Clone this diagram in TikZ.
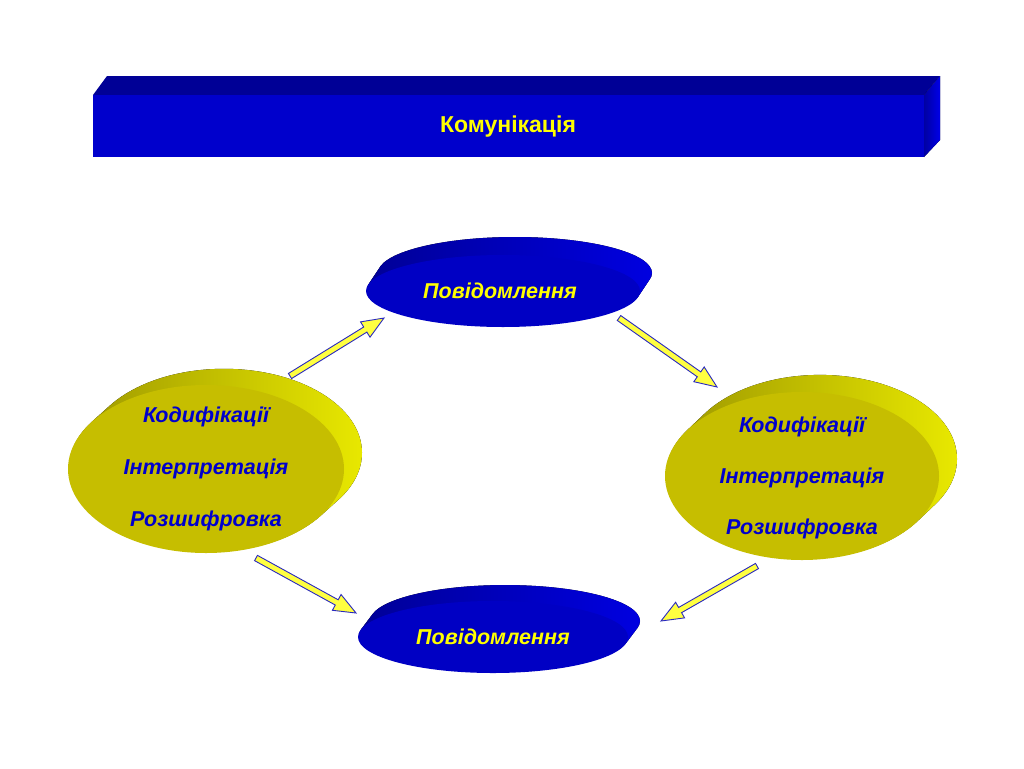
\documentclass[tikz,border=0pt]{standalone}
\usepackage{fontspec}
\setmainfont{Liberation Sans}
\usetikzlibrary{positioning,shapes.geometric,calc}

\definecolor{barfront}{HTML}{0000CC}
\definecolor{bartop}{HTML}{000096}
\definecolor{barside}{HTML}{0000E8}
\definecolor{msgfront}{HTML}{0000C4}
\definecolor{msgback}{HTML}{000096}
\definecolor{msgrim}{HTML}{0000E0}
\definecolor{codefront}{HTML}{C6BE00}
\definecolor{codeback}{HTML}{9C9600}
\definecolor{coderim}{HTML}{E8E800}
\definecolor{arrowfill}{HTML}{FFFF40}
\definecolor{arrowline}{HTML}{2828C0}
\definecolor{txtyellow}{HTML}{FFFF00}
\definecolor{txtblue}{HTML}{0000CC}

% block arrow from tail #1 to tip #2
\newcommand{\blockarrow}[2]{%
  \coordinate (#2h) at ($(#2)!22pt!(#1)$);
  \filldraw[arrowbody] ($(#1)!3pt!90:(#2)$) -- ($(#2h)!3pt!-90:(#1)$)
    -- ($(#2h)!9pt!-90:(#1)$) -- (#2) -- ($(#2h)!9pt!90:(#1)$)
    -- ($(#2h)!3pt!90:(#1)$) -- ($(#1)!3pt!-90:(#2)$) -- cycle;
}

\begin{document}
\begin{tikzpicture}[
    x=1pt, y=-1pt,
    every node/.style={font=\fontsize{23}{27}\selectfont\bfseries},
    msgdisc/.style={ellipse, inner sep=0pt, minimum width=274pt, minimum height=72pt},
    codedisc/.style={ellipse, inner sep=0pt, minimum width=276pt, minimum height=168pt},
    msgtext/.style={text=txtyellow, font=\fontsize{21.5}{26}\selectfont\bfseries\itshape},
    codetext/.style={text=txtblue, font=\fontsize{21.5}{26}\selectfont\bfseries\itshape},
    msgside/.style={left color=msgback, right color=msgrim},
    codeside/.style={left color=codeback, right color=coderim},
    arrowbody/.style={fill=arrowfill, draw=arrowline, line width=0.9pt, line join=miter}
]
\useasboundingbox (0,0) rectangle (1024,768);
\fill[white] (0,0) rectangle (1024,768);

% Title bar
\fill[bartop] (93,95) -- (107,76) -- (940,76) -- (924,95) -- cycle;
\fill[left color=barside!70!black, right color=barside] (924,95) -- (940,76) -- (940,140) -- (924,157) -- cycle;
\fill[barfront] (93,95) rectangle (924,157);
\node[text=txtyellow] (title) at (508,127) {Комунікація};

% Discs (front faces)
\coordinate (tmsgc) at (503,291);
\coordinate (bmsgc) at (493,637);
\coordinate (lcodec) at (206,469);
\coordinate (rcodec) at (802,476);

% Disc sides
\fill[msgside] foreach \s in {1,...,12} {($(tmsgc)+(\s,-\s*1.5)$) ellipse [x radius=137, y radius=36]};
\fill[msgside] foreach \s in {1,...,12} {($(bmsgc)+(\s,-\s*1.33)$) ellipse [x radius=135, y radius=36]};
\fill[codeside] foreach \s in {1,...,18} {($(lcodec)+(\s,-\s*0.9)$) ellipse [x radius=138, y radius=84]};
\fill[codeside] foreach \s in {1,...,18} {($(rcodec)+(\s,-\s*0.95)$) ellipse [x radius=137, y radius=84]};

% Messages
\node[msgdisc, fill=msgfront] (tmsg) at (tmsgc) {};
\node[msgtext] at ([xshift=-3pt]tmsg.center) {Повідомлення};

\node[msgdisc, minimum width=270pt, fill=msgfront] (bmsg) at (bmsgc) {};
\node[msgtext] at (bmsg.center) {Повідомлення};

% Left side
\node[codedisc, fill=codefront] (lfront) at (lcodec) {};
\node[codetext] (lint) at (lfront.center) {Інтерпретація};
\node[codetext] (lcod) at ([yshift=52pt]lint.center) {Кодифікації};
\node[codetext] (lroz) at ([yshift=-52pt]lint.center) {Розшифровка};

% Right side
\node[codedisc, minimum width=274pt, fill=codefront] (rfront) at (rcodec) {};
\node[codetext] (rint) at ([yshift=-2pt]rfront.center) {Інтерпретація};
\node[codetext] (rcod) at ([yshift=51pt]rint.center) {Кодифікації};
\node[codetext] (rroz) at ([yshift=-51pt]rint.center) {Розшифровка};

% Arrows
\coordinate (lup) at (290,376);
\coordinate (tin) at (384,318);
\coordinate (tout) at (619,318);
\coordinate (rin) at (717,387);
\coordinate (ldown) at (256,558);
\coordinate (bin) at (356,613);
\coordinate (rdown) at (757,566);
\coordinate (bin2) at (661,621);
\blockarrow{lup}{tin}
\blockarrow{tout}{rin}
\blockarrow{ldown}{bin}
\blockarrow{rdown}{bin2}

\end{tikzpicture}
\end{document}
